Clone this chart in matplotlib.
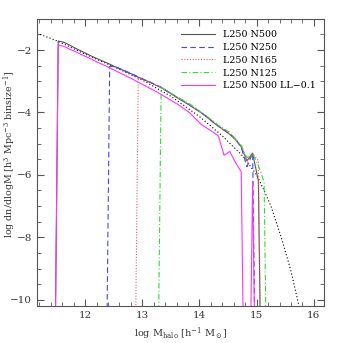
import numpy as np
import matplotlib.pyplot as plt

# === Daten (log M Bins, log dn/dlogM) ===
EMPTY = -20.0  # leere Bins, werden unten abgeschnitten

logm = [11.43, 11.53, 11.63, 11.73, 11.83, 11.93, 12.03, 12.13, 12.23, 12.33,
        12.43, 12.53, 12.63, 12.73, 12.83, 12.93, 13.03, 13.13, 13.23, 13.33,
        13.43, 13.53, 13.63, 13.73, 13.83, 13.93, 14.03, 14.13, 14.23, 14.33,
        14.43, 14.53, 14.63, 14.73, 14.83, 14.93, 15.03, 15.13, 15.23]

n500 = [EMPTY, -1.71, -1.75, -1.84, -1.94, -2.03, -2.12, -2.21, -2.29, -2.37,
        -2.45, -2.54, -2.62, -2.70, -2.78, -2.87, -2.95, -3.03, -3.12, -3.20,
        -3.32, -3.43, -3.55, -3.66, -3.77, -3.89, -4.01, -4.15, -4.30, -4.44,
        -4.57, -4.70, -4.87, -5.10, -5.55, -5.30, -6.20, EMPTY, EMPTY]

n250 = [EMPTY, EMPTY, EMPTY, EMPTY, EMPTY, EMPTY, EMPTY, EMPTY, EMPTY, EMPTY,
        -2.52, -2.53, -2.61, -2.69, -2.77, -2.86, -2.94, -3.02, -3.11, -3.19,
        -3.31, -3.42, -3.54, -3.64, -3.76, -3.88, -4.00, -4.13, -4.29, -4.43,
        -4.55, -4.68, -4.84, -5.12, -5.74, -5.30, EMPTY, EMPTY, EMPTY]

n165 = [EMPTY, EMPTY, EMPTY, EMPTY, EMPTY, EMPTY, EMPTY, EMPTY, EMPTY, EMPTY,
        EMPTY, EMPTY, EMPTY, EMPTY, EMPTY, -2.88, -2.95, -3.03, -3.11, -3.20,
        -3.31, -3.42, -3.54, -3.65, -3.76, -3.88, -4.00, -4.14, -4.29, -4.43,
        -4.56, -4.69, -4.86, -5.08, -5.58, -5.32, -5.55, EMPTY, EMPTY]

n125 = [EMPTY, EMPTY, EMPTY, EMPTY, EMPTY, EMPTY, EMPTY, EMPTY, EMPTY, EMPTY,
        EMPTY, EMPTY, EMPTY, EMPTY, EMPTY, EMPTY, EMPTY, EMPTY, EMPTY, -3.19,
        -3.30, -3.41, -3.52, -3.62, -3.73, -3.85, -4.00, -4.12, -4.26, -4.41,
        -4.52, -4.64, -4.85, -5.05, -5.45, -5.33, -5.70, -6.22, EMPTY]

n500_ll = [EMPTY, -1.84, -1.88, -1.97, -2.05, -2.14, -2.22, -2.31, -2.40, -2.48,
           -2.57, -2.66, -2.75, -2.84, -2.93, -3.03, -3.12, -3.22, -3.32, -3.42,
           -3.53, -3.64, -3.75, -3.88, -4.01, -4.20, -4.38, -4.50, -4.62, -4.75,
           -5.37, -5.25, -5.60, -5.90, EMPTY, -6.20, EMPTY, EMPTY, EMPTY]

# theoretische Massenfunktion
theo_m = [11.16, 11.53, 12.0, 12.5, 13.0, 13.5, 14.0, 14.4, 14.77, 15.0,
          15.13, 15.25, 15.43, 15.6, 15.74, 15.85]
theo_y = [-1.46, -1.72, -2.13, -2.53, -2.96, -3.48, -4.13, -4.75, -5.42, -6.00,
          -6.50, -7.00, -8.00, -9.08, -10.2, -10.9]

series = [
    (n500, 'L250 N500', '#555555', '-'),
    (n250, 'L250 N250', '#4444ff', (0, (5, 3))),
    (n165, 'L250 N165', '#ff5555', (0, (1, 1.5))),
    (n125, 'L250 N125', '#33dd33', (0, (5, 2, 1, 2))),
    (n500_ll, 'L250 N500 LL\u22120.1', '#ff33ff', '-'),
]

plt.rcParams['font.family'] = 'DejaVu Serif'
plt.rcParams['mathtext.fontset'] = 'dejavuserif'

fig = plt.figure(figsize=(3.43, 3.43), dpi=100)
ax = fig.add_axes([0.108, 0.108, 0.837, 0.837])

ax.plot(theo_m, theo_y, color='black', linestyle=(0, (1, 2)), linewidth=0.8)
for vals, lab, col, ls in series:
    ax.plot(logm, vals, color=col, linestyle=ls, linewidth=0.8, label=lab)

ax.set_xlim(11.16, 16.18)
ax.set_ylim(-10.2, -1.0)
ax.set_xticks([12, 13, 14, 15, 16])
ax.set_yticks([-10, -8, -6, -4, -2])
ax.set_xticks(np.arange(11.2, 16.2, 0.2), minor=True)
ax.set_yticks(np.arange(-10, -1.0, 0.5), minor=True)
ax.set_yticklabels(['\u221210', '\u22128', '\u22126', '\u22124', '\u22122'])
ax.tick_params(which='both', direction='in', top=True, right=True,
               labelsize=7.5, color='#555555', labelcolor='#333333')
ax.tick_params(which='major', length=5)
ax.tick_params(which='minor', length=3)
for s in ax.spines.values():
    s.set_color('#555555')

ax.set_xlabel(r'log M$_{\rm halo}$ [h$^{-1}$ M$_\odot$]', fontsize=7,
              color='#333333')
ax.set_ylabel(r'log dn/dlogM [h$^3$ Mpc$^{-3}$ binsize$^{-1}$]', fontsize=6.8,
              color='#333333')
ax.yaxis.set_label_coords(-0.068, 0.53)

ax.legend(loc='upper right', frameon=False, fontsize=6.8, handlelength=3.6,
          labelspacing=0.4, bbox_to_anchor=(1.0, 0.99))

plt.savefig('out.png', dpi=100)
